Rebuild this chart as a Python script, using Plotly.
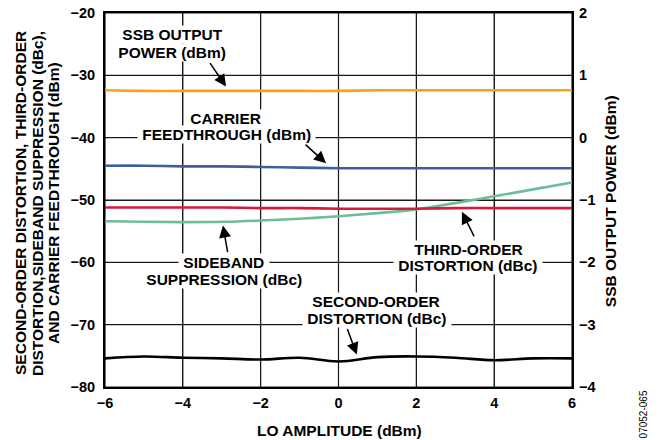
import plotly.graph_objects as go

lo_amp = [-6, -5, -4, -3, -2, -1, 0, 1, 2, 3, 4, 5, 6]
ssb_power = [0.76, 0.75, 0.75, 0.75, 0.75, 0.75, 0.75, 0.76, 0.76, 0.76, 0.76, 0.76, 0.76]
carrier_ft = [-44.5, -44.5, -44.6, -44.6, -44.7, -44.8, -44.9, -44.9, -44.9, -44.9, -44.9, -44.9, -44.9]
third_order = [-51.2, -51.2, -51.2, -51.2, -51.3, -51.3, -51.4, -51.4, -51.4, -51.3, -51.3, -51.3, -51.3]
sideband = [-53.4, -53.5, -53.55, -53.5, -53.3, -53.0, -52.6, -52.1, -51.5, -50.5, -49.4, -48.3, -47.2]
second_order = [-75.4, -75.1, -75.3, -75.4, -75.6, -75.3, -75.9, -75.2, -75.1, -75.3, -75.7, -75.4, -75.4]

x_ticks = [-6, -4, -2, 0, 2, 4, 6]
y_left_ticks = [-80, -70, -60, -50, -40, -30, -20]
y_right_ticks = [-4, -3, -2, -1, 0, 1, 2]


def fmt(v):
    return ("\u2212" + str(-v)) if v < 0 else str(v)


FONT = "Liberation Sans, Arial, sans-serif"
LW = 2.6
GRID = "#1a1a1a"

fig = go.Figure()
fig.add_trace(go.Scatter(x=lo_amp, y=second_order, mode="lines", line=dict(color="#000000", width=LW, shape="spline")))
fig.add_trace(go.Scatter(x=lo_amp, y=sideband, mode="lines", line=dict(color="#6DBE98", width=LW, shape="spline")))
fig.add_trace(go.Scatter(x=lo_amp, y=third_order, mode="lines", line=dict(color="#D8193C", width=LW, shape="spline")))
fig.add_trace(go.Scatter(x=lo_amp, y=carrier_ft, mode="lines", line=dict(color="#3D5F9E", width=LW, shape="spline")))
fig.add_trace(go.Scatter(x=lo_amp, y=ssb_power, mode="lines", yaxis="y2", line=dict(color="#F7A21B", width=LW, shape="spline")))

tickfont = dict(family=FONT, size=14.5, color="black", weight="bold")
fig.update_layout(
    width=663, height=440,
    margin=dict(l=105, r=91, t=13, b=53, autoexpand=False),
    paper_bgcolor="white", plot_bgcolor="rgba(0,0,0,0)",
    showlegend=False,
    xaxis=dict(range=[-6, 6], tickvals=x_ticks, ticktext=[fmt(v) for v in x_ticks],
               showgrid=True, gridcolor=GRID, gridwidth=1.2, zeroline=False,
               showline=True, linecolor="black", linewidth=2, mirror=True,
               tickfont=tickfont, ticklabelstandoff=2, automargin=False),
    yaxis=dict(range=[-80, -20], tickvals=y_left_ticks, ticktext=[fmt(v) for v in y_left_ticks],
               showgrid=True, gridcolor=GRID, gridwidth=1.2, zeroline=False,
               showline=True, linecolor="black", linewidth=2, mirror=True,
               tickfont=tickfont, ticklabelstandoff=5, automargin=False),
    yaxis2=dict(range=[-4, 2], tickvals=y_right_ticks, ticktext=[fmt(v) for v in y_right_ticks],
                overlaying="y", side="right", showgrid=False, zeroline=False, showline=False,
                tickfont=tickfont, ticklabelstandoff=6, automargin=False),
)

# gridlines at the tick positions (drawn beneath the curves)
for v in x_ticks:
    fig.add_shape(type="line", xref="x", yref="paper", x0=v, x1=v, y0=0, y1=1,
                  line=dict(color=GRID, width=1.2), layer="below")
for v in y_left_ticks:
    fig.add_shape(type="line", xref="paper", yref="y", x0=0, x1=1, y0=v, y1=v,
                  line=dict(color=GRID, width=1.2), layer="below")

lab_font = dict(family=FONT, size=15.5, color="black", weight="bold")
labels = [
    ("SSB OUTPUT", -4.278, -23.40),
    ("POWER (dBm)", -4.278, -26.30),
    ("CARRIER", -2.916, -36.90),
    ("FEEDTHROUGH (dBm)", -2.878, -39.55),
    ("SIDEBAND", -2.942, -60.02),
    ("SUPPRESSION (dBc)", -2.93, -62.80),
    ("SECOND-ORDER", 0.976, -66.30),
    ("DISTORTION (dBc)", 0.989, -69.00),
    ("THIRD-ORDER", 3.34, -57.90),
    ("DISTORTION (dBc)", 3.315, -60.55),
]
for text, x, y in labels:
    fig.add_annotation(x=x, y=y, xref="x", yref="y", text="\u00a0" + text + "\u00a0", showarrow=False,
                       xanchor="center", yanchor="middle",
                       font=lab_font, bgcolor="white", borderpad=0, align="center")

arrows = [
    (-2.89, -31.8, -17, -25),
    (-0.32, -44.1, -22, -20),
    (-2.97, -54.1, 5, 28),
    (0.47, -74.8, -10, -27),
    (3.17, -51.9, 13, 26),
]
for x, y, ax, ay in arrows:
    fig.add_annotation(x=x, y=y, xref="x", yref="y", text="", showarrow=True,
                       ax=ax, ay=ay, arrowhead=2, arrowsize=1.6, arrowwidth=1.5, arrowcolor="black")

title_font = dict(family=FONT, size=15.5, color="black", weight="bold")
left_title = [
    ("SECOND-ORDER DISTORTION, THIRD-ORDER", -0.1799),
    ("DISTORTION,SIDEBAND SUPPRESSION (dBc),", -0.1435),
    ("AND CARRIER FEEDTHROUGH (dBm)", -0.1092),
]
for text, xp in left_title:
    fig.add_annotation(xref="paper", yref="paper", x=xp, y=0.492, xanchor="center", yanchor="middle",
                       text=text, textangle=-90, showarrow=False, font=title_font)
fig.add_annotation(xref="paper", yref="paper", x=1.0814, y=0.497, xanchor="center", yanchor="middle",
                   text="SSB OUTPUT POWER (dBm)", textangle=-90, showarrow=False, font=title_font)
fig.add_annotation(xref="paper", yref="paper", x=0.502, y=-0.1176, xanchor="center", yanchor="middle",
                   text="LO AMPLITUDE (dBm)", showarrow=False, font=title_font)
fig.add_annotation(xref="paper", yref="paper", x=1.153, y=-0.072, xanchor="center", yanchor="middle",
                   text="07052-065", textangle=-90, showarrow=False,
                   font=dict(family=FONT, size=10, color="black"))

fig.write_html("out.html", config={"displayModeBar": False},
               post_script="document.body.style.margin='0';document.body.style.padding='0';document.body.style.overflow='hidden';")
